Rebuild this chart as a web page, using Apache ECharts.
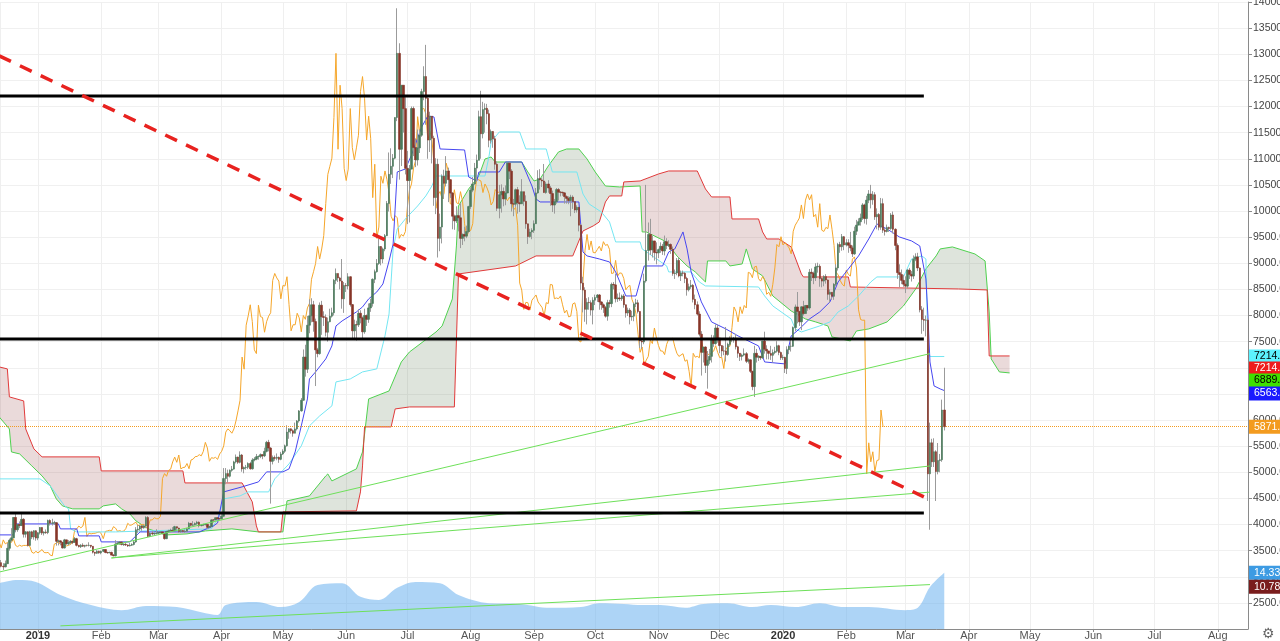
<!DOCTYPE html>
<html><head><meta charset="utf-8">
<script src="https://cdn.jsdelivr.net/npm/echarts/dist/echarts.min.js"></script>
<style>html,body{margin:0;padding:0;background:#fff;overflow:hidden}#c{width:1280px;height:641px}</style>
</head><body><div id="c"></div><script>
// ---- data ----
const firstDay = [2018, 11, 13];
const firstOpen = 3490;
const closeP = [
3270,3200,3190,3250,3545,3700,3745,4135,3900,4000,3980,4100,3815,3860,3600,3860,3760,3880,3740,
3843,3943,3836,3857,3845,4076,4025,4030,4035,3678,3687,3661,3552,3706,3630,3655,3678,3657,3728,3601,3576,3604,3585,3600,3599,3603,3583,3470,3449,3487,3457,
3487,3521,3464,3459,3466,3414,3401,3625,3641,3666,3617,3620,3608,3590,3603,3618,3667,3899,3913,3971,3936,3970,4135,3771,3835,3820,3829,3832,
3846,3858,3827,3729,3867,3878,3889,3876,3959,3931,3868,3884,3867,3873,3919,4023,3985,3993,4020,4044,3978,3991,4000,4002,3945,3963,4088,4087,4130,4112,4108,
4158,4880,4974,4923,5037,5060,5198,5290,5190,5330,5064,5090,5096,5167,5067,5235,5251,5298,5303,5337,5314,5399,5572,5464,5210,5279,5268,5285,5247,5350,
5402,5505,5768,5831,5795,5747,5829,5982,6174,6378,7204,6973,7814,7994,8205,7884,7343,7271,8197,7978,7963,7680,7881,7987,8052,8673,8805,8719,8659,8319,8574,
8564,8742,8208,7707,7824,7822,8043,7954,7688,8000,7927,8145,8231,8693,8838,8995,9320,9081,9273,9527,10144,10701,10856,11011,11790,13017,11182,12407,11959,10817,
10583,10801,11961,11215,10978,11208,11450,12285,12573,12156,11358,11815,11392,10256,10895,9477,9693,10666,10530,10767,10599,10343,9900,9811,9911,9870,9477,9552,9519,9607,10085,
10399,10518,10821,10970,11805,11478,11941,11966,11862,11354,11523,11382,10895,10052,10311,10374,10231,10345,10916,10763,10138,10131,10407,10159,10138,10370,10185,9754,9510,9598,9630,
9757,10346,10623,10594,10575,10353,10517,10441,10334,10115,10178,10410,10360,10358,10347,10276,10241,10198,10266,10181,10019,10070,9729,8620,8486,8118,8251,8245,8104,8293,
8343,8393,8259,8205,8151,7988,8245,8228,8595,8586,8321,8336,8321,8374,8205,8047,8103,7973,7988,8222,8243,8078,7514,7493,8660,9244,9551,9256,9427,9205,9199,
9261,9324,9235,9413,9342,9360,9267,8804,8813,9055,8757,8815,8808,8708,8491,8550,8577,8309,8206,8027,7642,7296,7397,7047,7146,7218,7531,7463,7761,7569,
7424,7321,7320,7252,7448,7547,7556,7564,7400,7278,7217,7243,7269,7124,7152,6932,6640,7276,7202,7219,7191,7511,7355,7322,7275,7238,7290,7317,7422,7293,7193,
7200,6985,7345,7410,7411,7769,8163,8079,7879,8166,8037,8192,8144,8827,8807,8723,8929,8942,8706,8658,8745,8680,8406,8445,8367,8597,8910,9358,9316,9508,9350,
9392,9344,9293,9180,9613,9729,9795,9865,10116,9856,10208,10326,10214,10312,9889,9934,9690,10141,9633,9608,9686,9663,9924,9650,9341,8820,8784,8672,8599,
8562,8869,8787,8755,9078,9122,8909,8108,7923,7909,7911,4970,5563,5200,5392,5014,5225,5238,6191,5871.3
];
const highP = [
3500,3320,3260,3310,3650,3730,3930,4140,4200,4010,4060,4240,4120,3870,3870,3880,3880,3890,3890,
3850,3950,3945,3870,3905,4095,4100,4110,4070,4045,3710,3700,3665,3725,3710,3700,3700,3685,3760,3745,3610,3625,3640,3610,3615,3660,3605,3585,3475,3510,3500,
3500,3530,3525,3480,3480,3480,3435,3700,3680,3680,3670,3640,3650,3620,3645,3640,3705,3950,3990,3990,3990,4000,4160,4160,3860,3880,3850,3910,
3865,3875,3870,3840,3880,3900,3920,3950,3975,3960,3940,3905,3895,3905,3935,4050,4030,4065,4040,4070,4060,4010,4015,4010,4010,3975,4100,4100,4135,4140,4125,
4200,5080,5080,5050,5055,5120,5220,5340,5300,5400,5350,5110,5140,5190,5200,5270,5290,5350,5320,5360,5340,5470,5600,5620,5480,5320,5320,5360,5300,5390,
5440,5530,5900,5840,5840,5820,5950,6000,6190,6420,7350,7440,7990,8310,8330,8280,7940,7380,8250,8280,8080,8020,7960,8130,8150,8700,8900,8800,8740,9080,8640,
8620,8810,8750,8220,7920,7900,8120,8100,7980,8130,8020,8230,8320,8710,8880,9080,9470,9330,9300,9560,10190,11120,11200,11090,11790,13880,13210,12410,12390,12180,
11150,10880,12000,12000,11390,11560,11560,12340,12770,13180,12200,11900,11810,11440,11010,11000,9950,10700,10790,11050,10830,10610,10360,9930,10090,10040,10150,9570,9700,9720,10100,
10450,10650,10920,11080,11920,12300,12090,12060,12050,11940,11560,11530,11440,10950,10500,10510,10450,10490,10930,10940,10800,10230,10430,10460,10300,10610,10350,10300,9760,9660,9670,
9820,10440,10780,10800,10630,10900,10560,10590,10480,10390,10230,10440,10440,10380,10370,10360,10300,10280,10310,10300,10170,10110,10080,9750,8740,8540,8330,8350,8290,8350,
8400,8410,8410,8270,8230,8180,8300,8300,8630,8640,8800,8420,8440,8400,8410,8210,8150,8140,8090,8250,8320,8300,8080,7560,8800,10500,9780,9850,9530,9430,9400,
9280,9400,9370,9530,9480,9440,9380,9320,8880,9100,9110,8860,8860,8830,8740,8610,8680,8600,8400,8270,8080,7700,7380,7410,7320,7360,7630,7620,7830,7830,
7570,7430,7420,7780,7480,7600,7620,7590,7650,7420,7280,7270,7370,7300,7180,7160,6940,7420,7360,7240,7200,7510,7690,7430,7320,7420,7350,7400,7510,7440,7310,
7250,7210,7410,7420,7540,7790,8210,8450,8060,8180,8280,8200,8200,8890,8900,8840,9000,9010,8980,8730,8770,8790,8690,8500,8440,8620,8980,9390,9410,9560,9520,
9460,9460,9600,9340,9700,9830,9860,9950,10150,10140,10290,10400,10500,10380,10360,10050,9960,10250,10240,9680,9740,9700,9960,9990,9670,9380,8980,8880,8780,
8750,8890,8910,8850,9150,9190,9200,8920,8180,8150,8000,7950,5950,5640,5650,5420,5560,5350,6390,7000
];
const lowP = [
3260,3180,3130,3180,3245,3500,3670,3740,3850,3860,3930,3970,3750,3750,3580,3590,3720,3710,3690,
3700,3810,3800,3790,3820,3815,3980,3980,3990,3595,3600,3600,3540,3540,3615,3600,3620,3625,3650,3580,3560,3550,3570,3560,3580,3580,3550,3445,3400,3440,3440,
3430,3470,3450,3440,3450,3410,3390,3390,3610,3610,3600,3590,3590,3570,3580,3590,3600,3650,3840,3880,3880,3920,3930,3760,3760,3790,3800,3810,
3820,3830,3810,3710,3720,3840,3860,3855,3870,3890,3840,3840,3850,3840,3860,3910,3960,3975,3980,3990,3945,3965,3970,3980,3910,3930,3950,4040,4080,4070,4090,
4100,4150,4770,4800,4900,5010,5050,5170,5160,5170,5010,4980,5050,5060,5050,5050,5210,5230,5240,5270,5250,5290,5380,5400,4400,5150,5220,5230,5180,5230,
5330,5370,5490,5640,5740,5680,5750,5800,5950,6160,6370,6830,6900,7660,7870,7690,6650,7200,7250,7630,7800,7600,7500,7870,7960,8000,8600,8640,8500,8130,8050,
8450,8500,8170,7550,7530,7520,7780,7850,7560,7650,7800,7860,8070,8170,8620,8820,8970,8960,9000,9230,9520,9990,10520,10630,10990,11720,10600,10860,11500,10700,
9750,9780,10830,11050,10840,10870,11110,11420,12120,11650,11000,11130,10910,10100,9940,9110,9230,9380,10230,10470,10170,10250,9650,9640,9770,9610,9290,9350,9420,9480,9580,
10040,10360,10500,10570,10970,11000,11390,11500,11660,11220,11290,11210,10790,10000,9860,9970,10090,10110,10340,10610,9990,9900,10080,9950,9980,10150,10100,9660,9370,9490,9460,
9580,9750,10330,10410,10460,10350,10330,10350,10100,9980,9950,10140,10200,10280,10290,10140,10140,10130,9900,10040,9960,9970,9610,8490,8060,7880,7830,8110,8000,7830,
8200,8260,8110,8110,8050,7960,7900,8150,8160,8500,8250,8260,8280,8280,8150,7960,7990,7830,7900,7890,8160,8040,7380,7360,7450,8630,9050,9160,9110,9050,8980,
9100,9200,9160,9150,9270,9310,9180,8760,8700,8770,8730,8660,8750,8620,8380,8460,8510,8250,8120,8000,7600,6850,7100,6900,6600,7070,7100,7400,7440,7480,
7280,7210,7240,7120,7230,7410,7490,7480,7350,7190,7130,7140,7220,7090,7080,6900,6570,6440,7100,7130,7150,7170,7270,7160,7160,7150,7100,7260,7290,7240,7150,
7150,6900,6880,7260,7310,7400,7700,7850,7800,7720,8000,8040,8090,8110,8660,8600,8660,8820,8550,8540,8560,8610,8300,8250,8300,8300,8560,8860,9200,9240,9250,
9320,9200,9230,9120,9160,9540,9730,9720,9830,9760,9740,10150,10050,10120,9830,9650,9630,9640,9580,9530,9590,9600,9640,9570,9250,8700,8540,8600,8550,
8430,8520,8700,8650,8700,9040,8850,8060,7650,7700,7600,4450,3900,5100,5100,4450,4960,5000,5200,5800
];
// Ichimoku lines: [date, price]
const tenkan = [['2018-12-13',3801],['2018-12-20',3801],['2018-12-21',4011],['2019-01-11',4011],['2019-01-12',3916],['2019-01-20',3916],['2019-01-21',3782],['2019-01-31',3782],['2019-02-01',3667],['2019-02-15',3667],['2019-02-20',3858],['2019-03-21',3858],['2019-03-28',3973],['2019-03-30',4030],['2019-04-02',4624],['2019-04-11',4720],['2019-04-19',4815],['2019-04-23',5007],['2019-05-01',5007],['2019-05-04',5064],['2019-05-07',5389],['2019-05-10',5887],['2019-05-13',6403],['2019-05-14',6786],['2019-05-17',6920],['2019-05-22',7169],['2019-05-25',7418],['2019-05-27',7800],['2019-05-30',7896],['2019-06-06',8068],['2019-06-09',8164],['2019-06-12',8317],['2019-06-16',8451],['2019-06-19',8604],['2019-06-22',9044],['2019-06-24',9369],['2019-06-26',10747],['2019-06-30',10804],['2019-07-03',11072],['2019-07-08',11608],['2019-07-11',11819],['2019-07-14',11800],['2019-07-16',11379],['2019-07-17',11187],['2019-07-29',11168],['2019-07-31',10651],['2019-08-04',10575],['2019-08-05',10747],['2019-08-15',10747],['2019-08-18',10938],['2019-08-26',10938],['2019-08-31',10479],['2019-09-02',10230],['2019-09-04',10173],['2019-09-23',10173],['2019-09-25',9216],['2019-09-27',9140],['2019-10-03',9082],['2019-10-08',9025],['2019-10-11',8834],['2019-10-16',8374],['2019-10-21',8374],['2019-10-25',8948],['2019-11-03',8948],['2019-11-06',9216],['2019-11-09',9274],['2019-11-13',9599],['2019-11-15',9274],['2019-11-17',8834],['2019-11-22',8260],['2019-11-27',7877],['2019-12-04',7743],['2019-12-10',7609],['2019-12-20',7418],['2019-12-23',7111],['2020-01-02',7073],['2020-01-05',7609],['2020-01-09',7743],['2020-01-14',7934],['2020-01-19',8068],['2020-01-24',8260],['2020-01-28',8642],['2020-02-02',8891],['2020-02-07',9140],['2020-02-12',9465],['2020-02-16',9752],['2020-02-21',9656],['2020-02-27',9503],['2020-03-04',9427],['2020-03-08',9331],['2020-03-11',8700],['2020-03-12',7992],['2020-03-13',7111],['2020-03-15',6652],['2020-03-18',6595],['2020-03-20',6563.1]];
const kijun = [['2018-12-13',4873],['2019-01-02',4873],['2019-01-07',4739],['2019-01-14',4356],['2019-01-16',4299],['2019-01-17',3916],['2019-01-20',3858],['2019-02-08',3858],['2019-03-27',3916],['2019-03-30',4107],['2019-04-02',4490],['2019-04-10',4547],['2019-04-14',4624],['2019-04-24',4624],['2019-04-27',4873],['2019-05-04',5160],['2019-05-10',5504],['2019-05-14',5887],['2019-05-19',6078],['2019-05-25',6270],['2019-05-27',6729],['2019-06-03',6786],['2019-06-09',6920],['2019-06-16',6978],['2019-06-20',7609],['2019-06-22',8030],['2019-06-24',9274],['2019-06-26',9656],['2019-06-30',9848],['2019-07-06',10096],['2019-07-10',10288],['2019-07-13',10479],['2019-07-15',10670],['2019-08-08',10670],['2019-08-10',11053],['2019-08-11',11321],['2019-08-15',11512],['2019-08-25',11512],['2019-08-28',11187],['2019-09-07',11187],['2019-09-10',10747],['2019-09-22',10747],['2019-09-25',10326],['2019-09-28',10135],['2019-10-04',9982],['2019-10-08',9790],['2019-10-11',9408],['2019-10-23',9408],['2019-10-24',9274],['2019-11-05',8948],['2019-11-06',8834],['2019-11-17',8834],['2019-11-21',8642],['2019-11-24',8566],['2019-12-20',8546],['2019-12-23',8374],['2019-12-27',8183],['2020-01-05',7934],['2020-01-07',7743],['2020-01-10',7685],['2020-01-19',7800],['2020-01-24',7877],['2020-01-28',8068],['2020-02-02',8183],['2020-02-07',8374],['2020-02-13',8642],['2020-02-16',8738],['2020-02-29',8738],['2020-03-04',9082],['2020-03-09',9140],['2020-03-11',9082],['2020-03-12',7360],['2020-03-13',7214.9],['2020-03-20',7214.9]];
const spanA = [['2018-12-13',6059],['2018-12-18',5829],['2018-12-19',5389],['2018-12-23',5351],['2018-12-29',5121],['2019-01-03',4930],['2019-01-07',4739],['2019-01-10',4490],['2019-01-13',4356],['2019-01-18',4299],['2019-01-31',4299],['2019-02-02',4356],['2019-02-08',4394],['2019-02-11',4299],['2019-02-15',4203],['2019-02-18',4069],['2019-02-24',3916],['2019-03-05',3801],['2019-03-15',3820],['2019-03-24',3877],['2019-04-06',3916],['2019-04-19',3858],['2019-05-01',3858],['2019-05-03',4452],['2019-05-14',4547],['2019-05-22',4930],['2019-05-23',4968],['2019-05-25',4834],['2019-06-06',5064],['2019-06-09',5389],['2019-06-12',6403],['2019-06-22',6556],['2019-06-28',7111],['2019-07-02',7302],['2019-07-15',7685],['2019-07-18',7800],['2019-07-23',8317],['2019-07-25',9331],['2019-07-26',10096],['2019-07-31',10422],['2019-08-05',10670],['2019-08-08',10996],['2019-08-11',11034],['2019-08-13',10938],['2019-08-26',10938],['2019-08-29',10747],['2019-09-01',10575],['2019-09-04',10613],['2019-09-08',10862],['2019-09-13',11130],['2019-09-17',11187],['2019-09-23',11187],['2019-09-27',10996],['2019-10-01',10747],['2019-10-06',10479],['2019-10-13',10460],['2019-10-23',10479],['2019-10-24',9599],['2019-10-26',9599],['2019-11-05',9408],['2019-11-10',9140],['2019-11-15',8948],['2019-11-19',8834],['2019-11-24',8642],['2019-11-25',9044],['2019-12-04',9044],['2019-12-06',8948],['2019-12-12',8987],['2019-12-14',9274],['2019-12-17',8891],['2019-12-22',8757],['2019-12-27',8374],['2019-12-30',8279],['2020-01-05',8087],['2020-01-12',7934],['2020-01-17',7877],['2020-01-23',7800],['2020-01-25',7590],['2020-02-03',7513],['2020-02-06',7704],['2020-02-12',7743],['2020-02-21',7877],['2020-02-29',8183],['2020-03-06',8508],['2020-03-11',8891],['2020-03-16',9140],['2020-03-18',9274],['2020-03-24',9312],['2020-04-04',9178],['2020-04-09',9044],['2020-04-11',8068],['2020-04-12',7169],['2020-04-16',6920],['2020-04-21',6901]];
const spanB = [['2018-12-13',7016],['2018-12-17',6978],['2018-12-18',6442],['2018-12-25',6365],['2018-12-26',5829],['2018-12-29',5542],['2018-12-30',5447],['2019-01-03',5294],['2019-01-31',5294],['2019-02-01',5026],['2019-03-13',5026],['2019-03-14',4796],['2019-04-11',4796],['2019-04-16',4433],['2019-04-18',3973],['2019-04-19',3858],['2019-04-30',3858],['2019-05-01',4241],['2019-06-06',4261],['2019-06-08',4624],['2019-06-09',5121],['2019-06-10',5868],['2019-06-23',5868],['2019-06-25',6212],['2019-07-02',6250],['2019-07-24',6250],['2019-07-26',8795],['2019-08-23',8948],['2019-09-02',9140],['2019-09-20',9140],['2019-09-22',9331],['2019-09-25',9618],['2019-09-30',9714],['2019-10-03',9790],['2019-10-06',10173],['2019-10-08',10288],['2019-10-14',10288],['2019-10-15',10556],['2019-10-23',10575],['2019-11-01',10709],['2019-11-06',10766],['2019-11-20',10766],['2019-11-24',10422],['2019-11-27',10269],['2019-12-06',10269],['2019-12-07',9848],['2019-12-20',9848],['2019-12-22',9599],['2019-12-24',9465],['2019-12-30',9465],['2020-01-05',9312],['2020-01-10',8795],['2020-01-11',8738],['2020-02-02',8738],['2020-02-03',8546],['2020-03-27',8508],['2020-04-10',8489],['2020-04-11',7226],['2020-04-21',7226]];
const cloudSegments = [['2018-12-13','2019-05-01','B'],['2019-05-01','2019-10-14','A'],['2019-10-14','2020-03-06','B'],['2020-03-06','2020-04-12','A'],['2020-04-12','2020-04-21','B']];
const laggingShift = 30;
const volMA = [['2018-12-13',11.7],['2018-12-22',12.5],['2018-12-31',12.0],['2019-01-12',8.7],['2019-01-27',6.1],['2019-02-11',4.8],['2019-02-23',5.9],['2019-03-10',5.6],['2019-03-22',4.3],['2019-03-30',3.6],['2019-04-03',6.1],['2019-04-18',6.9],['2019-04-30',5.6],['2019-05-09',6.9],['2019-05-18',11.2],['2019-05-30',11.7],['2019-06-08',8.2],['2019-06-17',7.4],['2019-06-26',10.5],['2019-07-05',12.0],['2019-07-17',11.7],['2019-07-26',8.7],['2019-08-10',6.6],['2019-08-25',6.4],['2019-09-09',5.4],['2019-09-24',5.6],['2019-10-03',6.6],['2019-10-15',6.4],['2019-10-24',6.1],['2019-11-02',6.1],['2019-11-14',5.4],['2019-11-23',6.4],['2019-12-05',6.6],['2019-12-17',5.6],['2019-12-26',6.1],['2020-01-07',5.6],['2020-01-19',6.6],['2020-01-31',5.6],['2020-02-12',5.6],['2020-03-01',4.8],['2020-03-07',5.4],['2020-03-13',10.7],['2020-03-20',14.33]];
const hLevels = [12200, 7550, 4220];
const hLevelSpan = ['2018-12-01', '2020-03-10'];
const redTrend = [['2018-12-13', 12970], ['2020-03-10', 4528]];
const greenTrends = [
  [['2018-12-13', 3090], ['2020-03-13', 7270]],
  [['2019-02-06', 3360], ['2020-03-13', 5120]],
  [['2019-02-06', 3360], ['2020-03-13', 4620]],
  [['2019-01-12', 2060], ['2020-03-13', 2850]]
];
const priceTags = [
  {v: 7214.9, t: '7214.9', bg: '#5cf2ff', fg: '#000', dy: 0},
  {v: 7214.9, t: '7214.9', bg: '#ee1c1c', fg: '#fff', dy: 12},
  {v: 6889.0, t: '6889.0', bg: '#3fe000', fg: '#000', dy: 7},
  {v: 6563.1, t: '6563.1', bg: '#1a1aff', fg: '#fff', dy: 3}
];
const lastPrice = 5871.3;
const volTags = [{v: 14.33, t: '14.33K', bg: '#3d9be3', fg: '#fff'}, {v: 10.788, t: '10.788', bg: '#7a1d1d', fg: '#fff'}];
const monthNames = ['Jan','Feb','Mar','Apr','May','Jun','Jul','Aug','Sep','Oct','Nov','Dec'];

// ---- build ----
const DAY = 864e5;
function toT(s) { const p = s.split('-'); return +new Date(+p[0], +p[1] - 1, +p[2]); }
function dateAt(i) { return +new Date(firstDay[0], firstDay[1], firstDay[2] + i); }
function conv(line) { return line.map(p => [toT(p[0]), p[1]]); }
const A = conv(spanA), B = conv(spanB);
const wicks = [], bodies = [];
closeP.forEach((c, i) => {
  const o = i === 0 ? firstOpen : closeP[i - 1];
  const h = Math.max(highP[i], o, c), l = Math.min(lowP[i], o, c);
  wicks.push([dateAt(i), o, c, l, h]);
  bodies.push([dateAt(i), o, c, Math.min(o, c), Math.max(o, c)]);
});
const lagging = closeP.map((c, i) => [dateAt(i - laggingShift), c]);
const xMin = +new Date(2019, 0, 1) - 18.6 * DAY;
const xMax = xMin + 611.4 * DAY;

function evalAt(line, t) {
  if (t <= line[0][0]) return line[0][1];
  for (let i = 1; i < line.length; i++) {
    if (t <= line[i][0]) {
      const t0 = line[i-1][0], v0 = line[i-1][1], t1 = line[i][0], v1 = line[i][1];
      return t1 === t0 ? v1 : v0 + (v1 - v0) * (t - t0) / (t1 - t0);
    }
  }
  return line[line.length - 1][1];
}
const upC = '#4b7a5c', downC = '#863528', wickC = '#9b9b9b';
const FONT = 'Liberation Sans, Arial, sans-serif';
const lineSeries = (name, data, color, z, extra) => Object.assign({
  type: 'line', name, data, symbol: 'none', showSymbol: false, silent: true, z,
  lineStyle: {color, width: 1}, clip: true
}, extra || {});
const tagLabel = (t) => ({show: true, position: 'end', formatter: t.t, backgroundColor: t.bg, color: t.fg,
  padding: [2, 6, 1, 5], fontSize: 10.5, distance: 1, offset: [0, t.dy || 0], fontFamily: FONT});
const hidden = {color: 'rgba(0,0,0,0)', width: 0};

const series = [
  { type: 'custom', name: 'cloud', silent: true, z: 1, clip: true,
    data: [[A[0][0], A[0][1]]], encode: {x: 0, y: 1},
    renderItem: (params, api) => ({
      type: 'group',
      children: cloudSegments.map(seg => {
        const ts = toT(seg[0]), te = toT(seg[1]);
        const a = [[ts, evalAt(A, ts)]].concat(A.filter(p => p[0] > ts && p[0] < te), [[te, evalAt(A, te)]]);
        const b = [[ts, evalAt(B, ts)]].concat(B.filter(p => p[0] > ts && p[0] < te), [[te, evalAt(B, te)]]);
        const pts = a.concat(b.reverse()).map(p => api.coord(p));
        return {type: 'polygon', shape: {points: pts},
          style: {fill: seg[2] === 'A' ? 'rgba(90,120,80,0.2)' : 'rgba(150,70,70,0.2)'}};
      })
    })
  },
  lineSeries('vol', conv(volMA), 'rgba(0,0,0,0)', 0, {
    yAxisIndex: 1, smooth: 0.35, lineStyle: {width: 0}, areaStyle: {color: 'rgba(105,176,238,0.55)', opacity: 1},
    markLine: { symbol: ['none','none'], silent: true, animation: false,
      data: volTags.map(t => ({yAxis: t.v, lineStyle: hidden, label: tagLabel(t)})) }
  }),
  lineSeries('spanA', A, '#4fd14f', 2),
  lineSeries('spanB', B, '#e03a3a', 2),
  lineSeries('lagging', lagging, '#f5a62a', 3),
  lineSeries('kijun', conv(kijun), '#74e6f2', 3),
  lineSeries('tenkan', conv(tenkan), '#4646f0', 3),
  { type: 'candlestick', name: 'wick', data: wicks, encode: {x: 0, y: [1, 2, 3, 4]}, barWidth: 1, z: 4, silent: true,
    itemStyle: {color: wickC, color0: wickC, borderColor: wickC, borderColor0: wickC, borderWidth: 1} },
  { type: 'candlestick', name: 'body', data: bodies, encode: {x: 0, y: [1, 2, 3, 4]}, barWidth: 2, z: 5, silent: true,
    itemStyle: {color: upC, color0: downC, borderColor: upC, borderColor0: downC, borderWidth: 0.6},
    markLine: { symbol: ['none','none'], silent: true, animation: false,
      data: [{yAxis: lastPrice, lineStyle: {color: '#f39b1f', type: 'dotted', width: 1},
              label: tagLabel({t: lastPrice.toFixed(1), bg: '#f39b1f', fg: '#fff'})}]
        .concat(priceTags.map(t => ({yAxis: t.v, lineStyle: hidden, label: tagLabel(t)}))) }
  }
];
greenTrends.forEach((g, i) => series.push(lineSeries('trend' + i, conv(g), '#6ee05a', 6)));
hLevels.forEach((v, i) => series.push(lineSeries('level' + i, [[toT(hLevelSpan[0]), v], [toT(hLevelSpan[1]), v]], '#000', 7, {lineStyle: {color: '#000', width: 3}})));
series.push(lineSeries('redTrend', conv(redTrend), '#e8221f', 7, {lineStyle: {color: '#e8221f', width: 3.5, type: [13, 10]}}));

const chart = echarts.init(document.getElementById('c'), null, {renderer: 'canvas'});
chart.setOption({
  animation: false,
  backgroundColor: '#fff',
  grid: {left: 0, right: 32, top: 2, bottom: 12, containLabel: false, outerBoundsMode: 'none'},
  xAxis: {
    type: 'time', min: xMin, max: xMax, splitNumber: 20, minInterval: 27 * DAY, maxInterval: 32 * DAY,
    axisLine: {lineStyle: {color: '#8a8a8a'}},
    axisTick: {show: true, length: 3, lineStyle: {color: '#8a8a8a'}},
    axisLabel: {color: '#555', fontSize: 11, margin: 1, showMinLabel: false, showMaxLabel: false, hideOverlap: false,
      fontFamily: FONT,
      formatter: v => { const d = new Date(v); return d.getMonth() === 0 ? '{b|' + d.getFullYear() + '}' : monthNames[d.getMonth()]; },
      rich: {b: {fontWeight: 'bold', color: '#333', fontSize: 11, fontFamily: FONT}}},
    splitLine: {show: true, lineStyle: {color: '#efefef'}}
  },
  yAxis: [
    { type: 'value', position: 'right', min: 2000, max: 14000, interval: 500,
      axisLine: {show: true, lineStyle: {color: '#8a8a8a'}},
      axisTick: {show: true, length: 4, lineStyle: {color: '#8a8a8a'}},
      axisLabel: {formatter: v => v.toFixed(1), color: '#444', fontSize: 10.5, margin: 5, showMinLabel: false,
        fontFamily: FONT},
      splitLine: {show: true, lineStyle: {color: '#f0f0f0'}} },
    { type: 'value', min: 0, max: 160, show: false, splitLine: {show: false} }
  ],
  graphic: [{type: 'text', left: 1262, top: 627, style: {text: '\u2699', font: '14px DejaVu Sans', fill: '#666'}}],
  series
});
</script></body></html>
